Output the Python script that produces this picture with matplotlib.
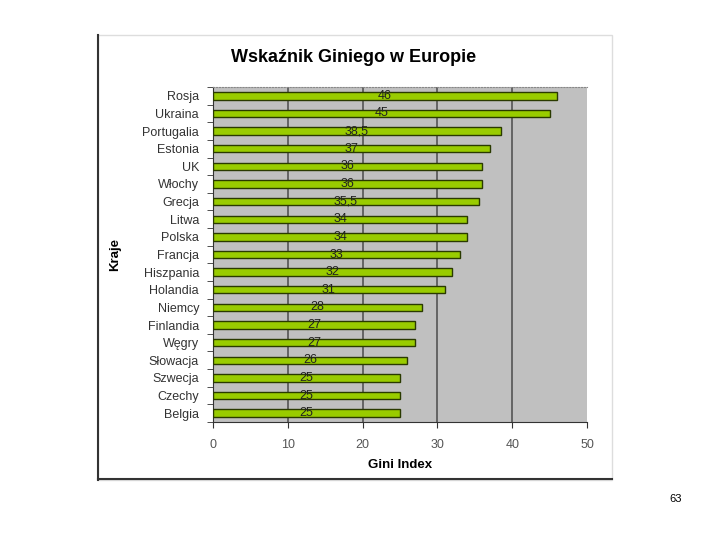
import matplotlib.pyplot as plt
import matplotlib.ticker as ticker
from matplotlib.patches import Rectangle
from matplotlib.lines import Line2D
import numpy as np

plt.rcParams['font.family'] = ['Liberation Sans', 'DejaVu Sans']

# dane
kraje = ['Rosja', 'Ukraina', 'Portugalia', 'Estonia', 'UK', 'Włochy', 'Grecja',
         'Litwa', 'Polska', 'Francja', 'Hiszpania', 'Holandia', 'Niemcy',
         'Finlandia', 'Węgry', 'Słowacja', 'Szwecja', 'Czechy', 'Belgia']
gini = [46, 45, 38.5, 37, 36, 36, 35.5, 34, 34, 33, 32, 31, 28, 27, 27, 26, 25, 25, 25]
etykiety = ['46', '45', '38,5', '37', '36', '36', '35,5', '34', '34', '33', '32',
            '31', '28', '27', '27', '26', '25', '25', '25']

fig = plt.figure(figsize=(7.2, 5.4), dpi=100)
fig.patch.set_facecolor('white')

# ramka obrazka
fig.patches.append(Rectangle((98 / 720, 1 - 480 / 540), 514 / 720, 445 / 540,
                             transform=fig.transFigure, facecolor='white',
                             edgecolor='#dddddd', linewidth=1, zorder=-2))
fig.lines.append(Line2D([98 / 720, 98 / 720], [1 - 480 / 540, 1 - 35 / 540],
                        transform=fig.transFigure, color='#333333', linewidth=1.5, zorder=1))
fig.lines.append(Line2D([98 / 720, 612 / 720], [1 - 479 / 540, 1 - 479 / 540],
                        transform=fig.transFigure, color='#333333', linewidth=1.5, zorder=1))

ax = fig.add_axes([213 / 720, 1 - 422 / 540, 374 / 720, 335 / 540])
ax.set_zorder(2)
ax.set_facecolor('#c0c0c0')

y = np.arange(len(kraje))
for gx in [10, 20, 30, 40]:
    ax.axvline(gx, color='#555555', linewidth=1.2, zorder=1)
ax.barh(y, gini, height=0.42, color='#99cc00', edgecolor='#2a3a00', linewidth=1, zorder=3)
for yi, v, lab in zip(y, gini, etykiety):
    ax.text(v / 2, yi, lab, ha='center', va='center', fontsize=9, color='#222222', zorder=4)

ax.set_xlim(0, 50)
ax.set_ylim(len(kraje) - 0.5, -0.5)
ax.xaxis.set_major_locator(ticker.MultipleLocator(10))
ax.set_yticks(y)
ax.set_yticklabels(kraje)
ax.yaxis.set_minor_locator(ticker.FixedLocator(np.arange(-0.5, len(kraje), 1)))
ax.tick_params(axis='y', which='major', length=0, pad=10, labelsize=9, labelcolor='#333333')
ax.tick_params(axis='y', which='minor', length=4, direction='out', color='#333333')
ax.tick_params(axis='x', length=4, direction='out', pad=8, labelsize=9,
               labelcolor='#555555', color='#333333')

ax.spines['right'].set_visible(False)
ax.spines['top'].set_linestyle(':')
ax.spines['top'].set_color('#888888')
ax.spines['left'].set_color('#333333')
ax.spines['bottom'].set_color('#333333')

ax.set_xlabel('Gini Index', fontsize=9.5, fontweight='bold', labelpad=6)
ax.set_ylabel('Kraje', fontsize=9.5, fontweight='bold', labelpad=6)
ax.yaxis.set_label_coords(-0.245, 0.5)

fig.text(354 / 720, 1 - 58 / 540, 'Wskaźnik Giniego w Europie', ha='center', va='center',
         fontsize=13, fontweight='bold')
fig.text(676 / 720, 1 - 499 / 540, '63', ha='center', va='center', fontsize=8)

fig.savefig('out.png', dpi=100)
